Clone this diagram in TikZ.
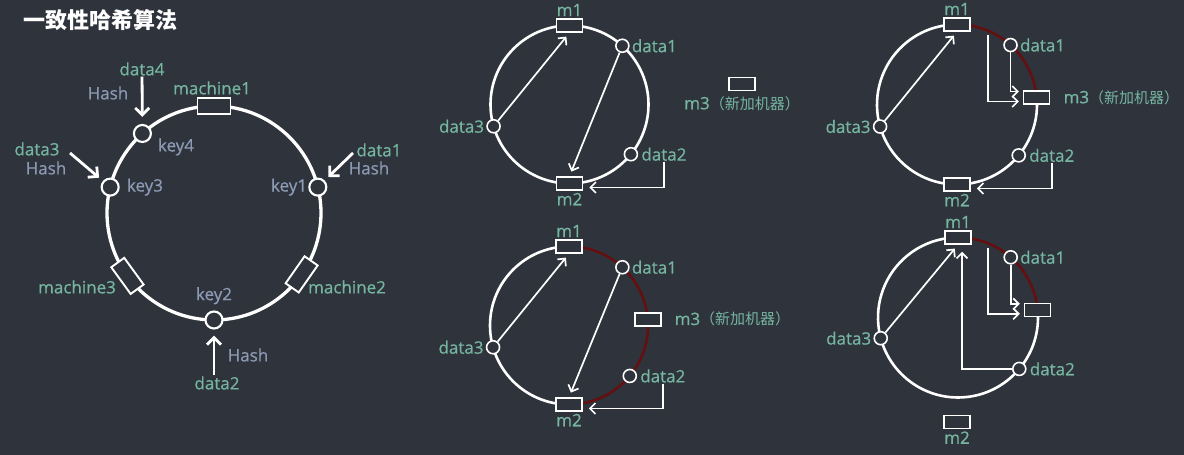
\documentclass[tikz,border=0pt]{standalone}
\usepackage{fontspec}
\setmainfont{Open Sans}[FakeBold=0.6]
\newfontfamily\cjk{Noto Sans CJK SC}
\usetikzlibrary{positioning,arrows.meta}

\definecolor{bg}{HTML}{2E333C}
\definecolor{leaf}{HTML}{76B6A0}
\definecolor{slate}{HTML}{8C9AB4}
\definecolor{hot}{HTML}{640F10}

\begin{document}
\begin{tikzpicture}[x=1pt,y=1pt,
	ring/.style={draw=white, line width=2.6pt},
	hotring/.style={draw=hot, line width=2.6pt},
	bigring/.style={draw=white, line width=3.3pt},
	mach/.style={rectangle, draw=white, fill=bg, line width=1.5pt,
		minimum width=26pt, minimum height=13pt, inner sep=0pt},
	bigmach/.style={rectangle, draw=white, fill=bg, line width=1.9pt,
		minimum width=33pt, minimum height=16pt, inner sep=0pt},
	dot/.style={circle, draw=white, fill=bg, line width=1.6pt,
		minimum size=13pt, inner sep=0pt},
	bigdot/.style={circle, draw=white, fill=bg, line width=2.1pt,
		minimum size=17pt, inner sep=0pt},
	tag/.style={text=leaf, font=\fontsize{17}{17}\selectfont, inner sep=1pt},
	hint/.style={text=slate, font=\fontsize{17}{17}\selectfont, inner sep=1pt},
	link/.style={draw=white, line width=1.7pt, -{Straight Barb[length=5.5pt,width=11pt]}},
	biglink/.style={draw=white, line width=2.8pt, -{Straight Barb[length=7pt,width=14pt]}}
	]
	\fill[bg] (0,0) rectangle (1184,455);
	\node[anchor=west, text=white, font=\cjk\fontsize{22}{22}\selectfont\bfseries] (title) at (20,435) {一致性哈希算法};

	% ring with keys
	\coordinate (L) at (214,242);
	\draw[bigring] (L) circle[radius=107];
	\node[bigmach] (mach1) at ([shift={(90:107)}]L) {};
	\node[bigmach, rotate=55] (mach2) at ([shift={(-35:107)}]L) {};
	\node[bigmach, rotate=-54] (mach3) at ([shift={(216:107)}]L) {};
	\node[bigdot] (key1) at ([shift={(14:107)}]L) {};
	\node[bigdot] (key2) at ([shift={(-90:107)}]L) {};
	\node[bigdot] (key3) at ([shift={(166:107)}]L) {};
	\node[bigdot] (key4) at ([shift={(132:107)}]L) {};
	\node[tag] (lmach1) at (212,367) {machine1};
	\node[tag] (lmach2) at (347,168) {machine2};
	\node[tag] (lmach3) at (77,168) {machine3};
	\node[hint, left=0pt of key1] (lkey1) {key1};
	\node[hint, above=5pt of key2] (lkey2) {key2};
	\node[hint, right=6pt of key3] (lkey3) {key3};
	\node[hint] (lkey4) at (176,308) {key4};
	\node[tag] (ldata1) at (379,305) {data1};
	\node[hint] (hash1) at (369,287) {Hash};
	\node[tag] (ldata2) at (217,72) {data2};
	\node[hint] (hash2) at (248,100) {Hash};
	\node[tag] (ldata3) at (37,306) {data3};
	\node[hint] (hash3) at (46,287) {Hash};
	\node[tag] (ldata4) at (142,386) {data4};
	\node[hint] (hash4) at (108,362) {Hash};
	\coordinate (from1) at (353,302);
	\coordinate (from3) at (70,302);
	\draw[biglink, shorten >=7pt] (ldata4) -- (key4);
	\draw[biglink, shorten >=6pt] (ldata2.north -| key2) -- (key2);
	\draw[biglink, shorten >=5pt] (from1) -- (key1);
	\draw[biglink, shorten >=5pt] (from3) -- (key3);

	% before adding m3
	\coordinate (A) at (569.5,350.5);
	\draw[ring] (A) circle[radius=79];
	\node[mach] (am1) at ([shift={(90:79)}]A) {};
	\node[mach] (am2) at ([shift={(-90:79)}]A) {};
	\node[dot] (ad1) at ([shift={(48:79)}]A) {};
	\node[dot] (ad2) at ([shift={(-39:79)}]A) {};
	\node[dot] (ad3) at ([shift={(196:79)}]A) {};
	\node[mach] (am3) at (742,371) {};
	\node[tag, above=1pt of am1] (lam1) {m1};
	\node[tag, below=1pt of am2] (lam2) {m2};
	\node[tag, below=4pt of am3] (lam3) {m3{\cjk\fontsize{15}{15}\selectfont（新加机器）}};
	\node[tag, right=1pt of ad1] (lad1) {data1};
	\node[tag, right=2pt of ad2] (lad2) {data2};
	\node[tag, left=1pt of ad3] (lad3) {data3};
	\draw[link, shorten >=5pt] (ad3) -- (am1.south);
	\draw[link, shorten >=5pt] (ad1) -- (am2.north);
	\draw[link, shorten >=6pt] (lad2.south) |- ([yshift=-4pt]am2.east);

	% m3 joins the ring
	\coordinate (B) at (957,350.5);
	\draw[ring] ([shift={(5:80)}]B) arc[start angle=5, end angle=-270, radius=80];
	\draw[hotring] ([shift={(90:80)}]B) arc[start angle=90, end angle=5, radius=80];
	\node[mach] (bm1) at ([shift={(90:80)}]B) {};
	\node[mach] (bm2) at ([shift={(-90:80)}]B) {};
	\node[mach] (bm3) at ([shift={(5:80)}]B) {};
	\node[dot] (bd1) at ([shift={(48:80)}]B) {};
	\node[dot] (bd2) at ([shift={(-39.5:80)}]B) {};
	\node[dot] (bd3) at ([shift={(196:80)}]B) {};
	\node[tag, above=1pt of bm1] (lbm1) {m1};
	\node[tag, below=1pt of bm2] (lbm2) {m2};
	\node[tag, right=12pt of bm3] (lbm3) {m3{\cjk\fontsize{15}{15}\selectfont（新加机器）}};
	\node[tag, right=1pt of bd1] (lbd1) {data1};
	\node[tag, right=2pt of bd2] (lbd2) {data2};
	\node[tag, left=1pt of bd3] (lbd3) {data3};
	\coordinate (bcut) at (988,420);
	\draw[link, shorten >=5pt] (bd3) -- (bm1.south);
	\draw[link, shorten >=4pt] (bcut) |- ([yshift=-4pt]bm3.west);
	\draw[link, shorten >=4pt] (bd1) |- ([yshift=6pt]bm3.west);
	\draw[link, shorten >=6pt] (lbd2.south) |- ([yshift=-4pt]bm2.east);

	% m3 added, m2 part
	\coordinate (C) at (569,129.5);
	\draw[ring] ([shift={(-90:79)}]C) arc[start angle=-90, end angle=-270, radius=79];
	\draw[hotring] ([shift={(90:79)}]C) arc[start angle=90, end angle=-90, radius=79];
	\node[mach] (cm1) at ([shift={(90:79)}]C) {};
	\node[mach] (cm2) at ([shift={(-90:79)}]C) {};
	\node[mach] (cm3) at ([shift={(4.5:79)}]C) {};
	\node[dot] (cd1) at ([shift={(47.5:79)}]C) {};
	\node[dot] (cd2) at ([shift={(-39.7:79)}]C) {};
	\node[dot] (cd3) at ([shift={(196:79)}]C) {};
	\node[tag, above=1pt of cm1] (lcm1) {m1};
	\node[tag, below=1pt of cm2] (lcm2) {m2};
	\node[tag, right=12pt of cm3] (lcm3) {m3{\cjk\fontsize{15}{15}\selectfont（新加机器）}};
	\node[tag, right=1pt of cd1] (lcd1) {data1};
	\node[tag, right=2pt of cd2] (lcd2) {data2};
	\node[tag, left=1pt of cd3] (lcd3) {data3};
	\draw[link, shorten >=5pt] (cd3) -- (cm1.south);
	\draw[link, shorten >=5pt] (cd1) -- (cm2.north);
	\draw[link, shorten >=6pt] (lcd2.south) |- ([yshift=-4pt]cm2.east);

	% m2 removed
	\coordinate (D) at (958,137.5);
	\draw[ring] ([shift={(5.5:80)}]D) arc[start angle=5.5, end angle=-270, radius=80];
	\draw[hotring] ([shift={(90:80)}]D) arc[start angle=90, end angle=5.5, radius=80];
	\node[mach] (dm1) at ([shift={(90:80)}]D) {};
	\node[mach] (dm3) at ([shift={(5.5:80)}]D) {};
	\node[mach] (dm2) at (957,33) {};
	\node[dot] (dd1) at ([shift={(48.8:80)}]D) {};
	\node[dot] (dd2) at ([shift={(-40:80)}]D) {};
	\node[dot] (dd3) at ([shift={(195:80)}]D) {};
	\node[tag, above=1pt of dm1] (ldm1) {m1};
	\node[tag, below=1pt of dm2] (ldm2) {m2};
	\node[tag, right=1pt of dd1] (ldd1) {data1};
	\node[tag, right=2pt of dd2] (ldd2) {data2};
	\node[tag, left=1pt of dd3] (ldd3) {data3};
	\coordinate (dcut) at (988,207);
	\draw[link, shorten >=5pt] (dd3) -- (dm1.south);
	\draw[link, shorten >=7pt] (dd2) -| ([xshift=4pt]dm1.south);
	\draw[link, shorten >=4pt] (dcut) |- ([yshift=-4pt]dm3.west);
	\draw[link, shorten >=4pt] (dd1) |- ([yshift=6pt]dm3.west);
\end{tikzpicture}
\end{document}
